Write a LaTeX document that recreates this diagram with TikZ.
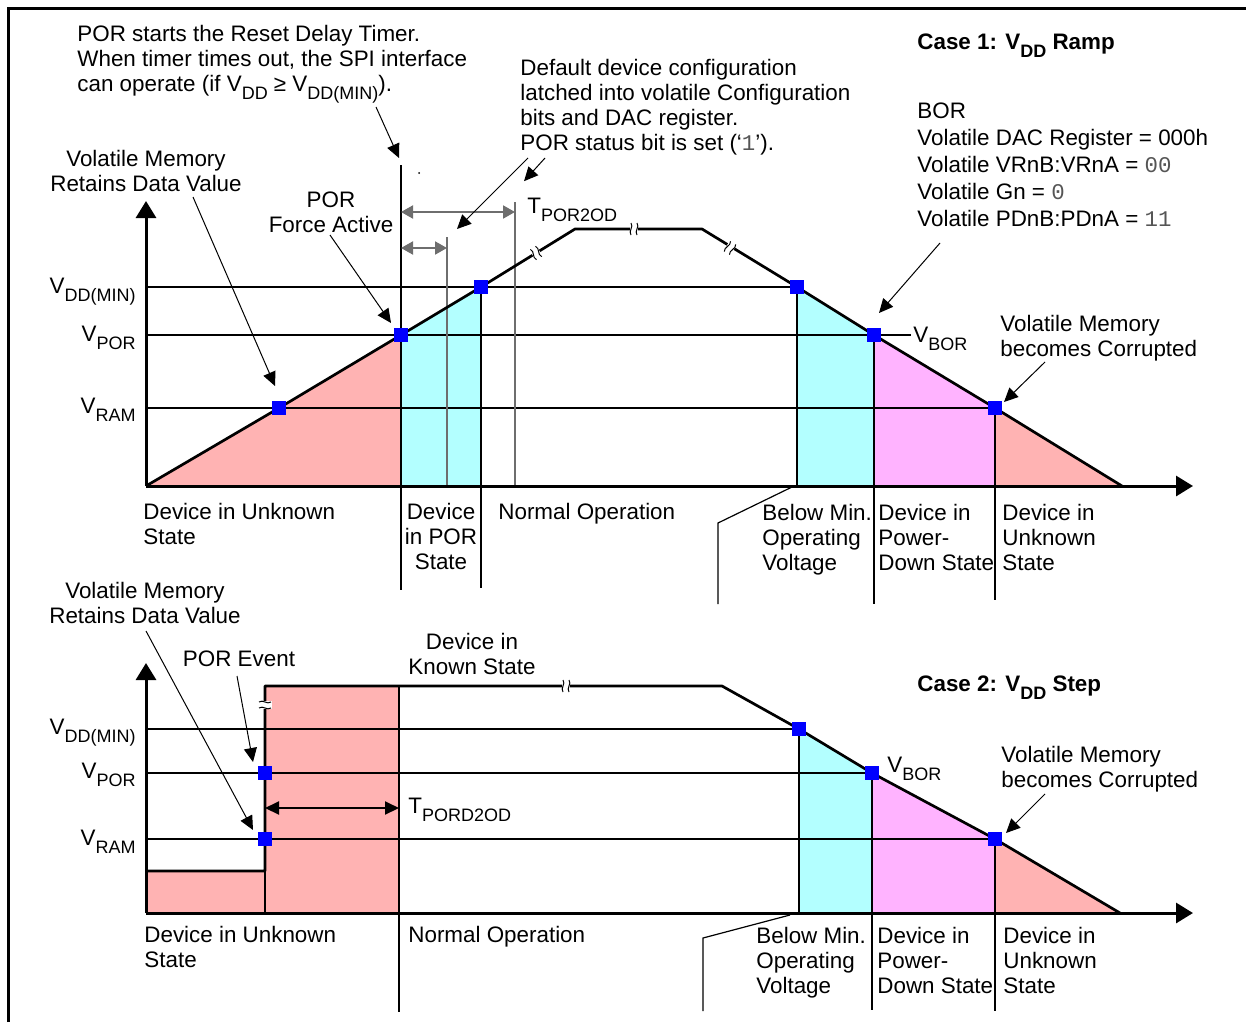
\documentclass[tikz,border=0pt]{standalone}
\usepackage{fontspec}
\setmainfont{Liberation Sans}
\setmonofont{Liberation Mono}
\usepackage{xcolor}
\definecolor{porPink}{HTML}{FFB3B3}
\definecolor{porCyan}{HTML}{B3FFFF}
\definecolor{porMagenta}{HTML}{FFB3FF}
\definecolor{markBlue}{HTML}{0000FF}
\definecolor{timerGray}{HTML}{6E6E6E}
\definecolor{monoGray}{HTML}{555555}
\usetikzlibrary{arrows.meta, positioning, calc}

\newcommand{\vsub}[1]{\raisebox{-4pt}{\fontsize{9}{10}\selectfont #1}}
\newcommand{\regval}[1]{{\ttfamily\color{monoGray}#1}}

\begin{document}
\begin{tikzpicture}[
    x=0.5pt, y=-0.5pt,
    font=\fontsize{11.2}{12.5}\selectfont,
    lblNode/.style={inner sep=0pt, anchor=north west, align=left},
    midNode/.style={inner sep=0pt, anchor=north, align=center},
    voltNode/.style={inner sep=0pt, anchor=base east},
    tagNode/.style={inner sep=0pt, anchor=base west},
    ptNode/.style={fill=markBlue, minimum size=7pt, inner sep=0pt},
    axisLine/.style={line width=1.5pt, -{Triangle[length=8.5pt, width=10pt]}},
    gridLine/.style={line width=1pt},
    waveLine/.style={line width=1.35pt, line join=round},
    timerLine/.style={line width=1pt, color=timerGray},
    timerArr/.style={timerLine, <->, >={Triangle[length=6pt, width=6.5pt]}},
    spanArr/.style={line width=1pt, <->, >={Triangle[length=7pt, width=6.5pt]}},
    arrLine/.style={line width=0.5pt, -{Triangle[length=7pt, width=6.5pt]}},
    thinLine/.style={line width=0.6pt},
    brkMark/.pic={
        \fill[white] (-2pt,-3.5pt) rectangle (2pt,3.5pt);
        \draw[line width=0.5pt] (-1.5pt,-3pt) .. controls (-3pt,-1pt) and (0pt,1pt) .. (-1.5pt,3pt);
        \draw[line width=0.5pt] (1.5pt,-3pt) .. controls (0pt,-1pt) and (3pt,1pt) .. (1.5pt,3pt);
    }
]
\useasboundingbox (0,0) rectangle (1246,1022);
\draw[line width=1.2pt] (8.5,1022) -- (8.5,8.5) -- (1246,8.5);

% Case 1: ramp
\coordinate (o1) at (146,486);
\coordinate (yTop1) at (146,201);
\coordinate (xEnd1) at (1193,486);
\coordinate (cRam1) at (279,408);
\coordinate (cPor1) at (401,335);
\coordinate (cMin1) at (481,287);
\coordinate (rampTop1) at (575,229);
\coordinate (rampTopR1) at (702,229);
\coordinate (cMinR1) at (797,287);
\coordinate (cBor1) at (874,335);
\coordinate (cRamR1) at (995,408);
\coordinate (rampEnd1) at (1122,486);
\coordinate (vborEnd1) at (911,335);

\fill[porPink] (o1) -- (cPor1) -- (cPor1 |- o1) -- cycle;
\fill[porCyan] (cPor1 |- o1) -- (cPor1) -- (cMin1) -- (cMin1 |- o1) -- cycle;
\fill[porCyan] (cMinR1 |- o1) -- (cMinR1) -- (cBor1) -- (cBor1 |- o1) -- cycle;
\fill[porMagenta] (cBor1 |- o1) -- (cBor1) -- (cRamR1) -- (cRamR1 |- o1) -- cycle;
\fill[porPink] (cRamR1 |- o1) -- (cRamR1) -- (rampEnd1) -- cycle;

\draw[gridLine] (o1 |- cMin1) -- (cMinR1);
\draw[gridLine] (o1 |- cPor1) -- (vborEnd1);
\draw[gridLine] (o1 |- cRam1) -- (cRamR1);
\draw[gridLine] (401,165) -- (401,590);
\draw[gridLine] (cMin1) -- (481,588);
\draw[gridLine] (cMinR1) -- (cMinR1 |- o1);
\draw[gridLine] (cBor1) -- (874,604);
\draw[gridLine] (cRamR1) -- (995,600);
\draw[thinLine] (792,487) -- (718,523) -- (718,604);
\fill (419,173) circle (1);

\draw[timerLine] (447,237) -- (447,486);
\draw[timerLine] (515,202) -- (515,486);
\draw[timerArr] (401,212) -- (515,212);
\draw[timerArr] (401,248) -- (447,248);

\draw[waveLine] (o1) -- (cRam1) -- (cPor1) -- (cMin1) -- (rampTop1) -- (rampTopR1)
    -- (cMinR1) -- (cBor1) -- (cRamR1) -- (rampEnd1);
\pic[rotate=31] at (536,253) {brkMark};
\pic at (634,229) {brkMark};
\pic[rotate=-31] at (730,248) {brkMark};
\draw[axisLine] (o1) -- (yTop1);
\draw[axisLine] (o1) -- (xEnd1);

\foreach \pt/\name in {cRam1/ram1, cPor1/por1, cMin1/min1, cMinR1/minR1, cBor1/bor1, cRamR1/ramR1}
    \node[ptNode] (\name) at (\pt) {};

\node[voltNode] (vMin1) at (136,293) {V\vsub{DD(MIN)}};
\node[voltNode] (vPor1) at (136,341) {V\vsub{POR}};
\node[voltNode] (vRam1) at (136,413) {V\vsub{RAM}};
\node[tagNode] (vBor1) at (913,342) {V\vsub{BOR}};
\node[tagNode] (tPor2od) at (527,213) {T\vsub{POR2OD}};

\node[lblNode] (porTimer) at (77,25) {POR starts the Reset Delay Timer.\\
    When timer times out, the SPI interface\\can operate (if V\vsub{DD} ≥ V\vsub{DD(MIN)}).};
\node[midNode] (volRet1) at (146,150) {Volatile Memory\\Retains Data Value};
\node[midNode] (porForce) at (331,191) {POR\\Force Active};
\node[lblNode] (defCfg) at (520,59) {Default device configuration\\
    latched into volatile Configuration\\bits and DAC register.\\POR status bit is set (‘\regval{1}’).};
\node[lblNode] (case1) at (917,33) {\textbf{Case 1: V\vsub{DD} Ramp}};
\node[lblNode, font=\fontsize{11.2}{13.5}\selectfont] (borInfo) at (917,102) {BOR\\
    Volatile DAC Register = 000h\\Volatile VRnB:VRnA = \regval{00}\\
    Volatile Gn = \regval{0}\\Volatile PDnB:PDnA = \regval{11}};
\node[lblNode] (volCor1) at (1000,315) {Volatile Memory\\becomes Corrupted};

\node[lblNode] (unk1) at (143,503) {Device in Unknown\\State};
\node[midNode] (porState) at (441,503) {Device\\in POR\\State};
\node[lblNode] (normOp1) at (498,503) {Normal Operation};
\node[lblNode] (belowMin1) at (762,504) {Below Min.\\Operating\\Voltage};
\node[lblNode] (pwrDown1) at (878,504) {Device in\\Power-\\Down State};
\node[lblNode] (unkR1) at (1002,504) {Device in\\Unknown\\State};

% leaders
\coordinate (porTimerFoot) at (376,107);
\coordinate (volRetFoot1) at (193,197);
\coordinate (porForceFoot) at (330,235);
\coordinate (defCfgFootA) at (528,158);
\coordinate (defCfgFootB) at (545,158);
\coordinate (borFoot) at (940,243);
\coordinate (volCorFoot1) at (1045,362);
\draw[arrLine] (porTimerFoot) -- (399,158);
\draw[arrLine] (volRetFoot1) -- ($(ram1)+(-4,-22)$);
\draw[arrLine] (porForceFoot) -- ($(por1)+(-10,-12)$);
\draw[arrLine] (defCfgFootA) -- (457,229);
\draw[arrLine] (defCfgFootB) -- ($(tPor2od.north west)+(-3,-16)$);
\draw[arrLine] (borFoot) -- ($(bor1)+(5,-22)$);
\draw[arrLine] (volCorFoot1) -- ($(ramR1)+(9,-6)$);

% Case 2: step
\coordinate (o2) at (146,913);
\coordinate (yTop2) at (146,663);
\coordinate (xEnd2) at (1193,913);
\coordinate (stepLow) at (146,871);
\coordinate (stepCorner) at (265,871);
\coordinate (stepTop) at (265,686);
\coordinate (knownEdge) at (399,686);
\coordinate (flatEnd2) at (722,686);
\coordinate (cPor2) at (265,773);
\coordinate (cRam2) at (265,839);
\coordinate (cMinR2) at (799,729);
\coordinate (cBor2) at (872,773);
\coordinate (cRamR2) at (995,839);
\coordinate (rampEnd2) at (1120,913);

\fill[porPink] (o2) -- (stepLow) -- (stepCorner) -- (stepTop) -- (knownEdge) -- (knownEdge |- o2) -- cycle;
\fill[porCyan] (cMinR2 |- o2) -- (cMinR2) -- (cBor2) -- (cBor2 |- o2) -- cycle;
\fill[porMagenta] (cBor2 |- o2) -- (cBor2) -- (cRamR2) -- (cRamR2 |- o2) -- cycle;
\fill[porPink] (cRamR2 |- o2) -- (cRamR2) -- (rampEnd2) -- cycle;

\draw[gridLine] (o2 |- cMinR2) -- (cMinR2);
\draw[gridLine] (o2 |- cPor2) -- (cBor2);
\draw[gridLine] (o2 |- cRam2) -- (cRamR2);
\draw[gridLine] (stepCorner) -- (stepCorner |- o2);
\draw[gridLine] (knownEdge) -- (399,1012);
\draw[gridLine] (cMinR2) -- (cMinR2 |- o2);
\draw[gridLine] (cBor2) -- (872,1010);
\draw[gridLine] (cRamR2) -- (995,1011);
\draw[thinLine] (790,915) -- (703,938) -- (703,1011);

\draw[waveLine] (stepLow) -- (stepCorner) -- (stepTop) -- (flatEnd2) -- (cMinR2) -- (cBor2)
    -- (cRamR2) -- (rampEnd2);
\pic[rotate=90] at (265,705) {brkMark};
\pic at (566,686) {brkMark};
\draw[axisLine] (o2) -- (yTop2);
\draw[axisLine] (o2) -- (xEnd2);

\foreach \pt/\name in {cPor2/por2, cRam2/ram2, cMinR2/minR2, cBor2/bor2, cRamR2/ramR2}
    \node[ptNode] (\name) at (\pt) {};

\coordinate (spanL) at (265,808);
\draw[spanArr] (spanL) -- (spanL -| knownEdge);

\node[voltNode] (vMin2) at (136,734) {V\vsub{DD(MIN)}};
\node[voltNode] (vPor2) at (136,778) {V\vsub{POR}};
\node[voltNode] (vRam2) at (136,845) {V\vsub{RAM}};
\node[tagNode] (vBor2) at (887,772) {V\vsub{BOR}};
\node[tagNode] (tPord2od) at (408,813) {T\vsub{PORD2OD}};

\node[midNode] (volRet2) at (145,582) {Volatile Memory\\Retains Data Value};
\node[midNode] (porEvent) at (239,650) {POR Event};
\node[midNode] (knownState) at (472,633) {Device in\\Known State};
\node[lblNode] (case2) at (917,675) {\textbf{Case 2: V\vsub{DD} Step}};
\node[lblNode] (volCor2) at (1001,746) {Volatile Memory\\becomes Corrupted};

\node[lblNode] (unk2) at (144,926) {Device in Unknown\\State};
\node[lblNode] (normOp2) at (408,926) {Normal Operation};
\node[lblNode] (belowMin2) at (756,927) {Below Min.\\Operating\\Voltage};
\node[lblNode] (pwrDown2) at (877,927) {Device in\\Power-\\Down State};
\node[lblNode] (unkR2) at (1003,927) {Device in\\Unknown\\State};

% leaders
\coordinate (volRetFoot2) at (146,631);
\coordinate (porEventFoot) at (237,676);
\coordinate (volCorFoot2) at (1045,794);
\draw[arrLine] (volRetFoot2) -- ($(ram2)+(-12,-9)$);
\draw[arrLine] (porEventFoot) -- ($(por2)+(-12,-11)$);
\draw[arrLine] (volCorFoot2) -- ($(ramR2)+(11,-6)$);

\end{tikzpicture}
\end{document}
